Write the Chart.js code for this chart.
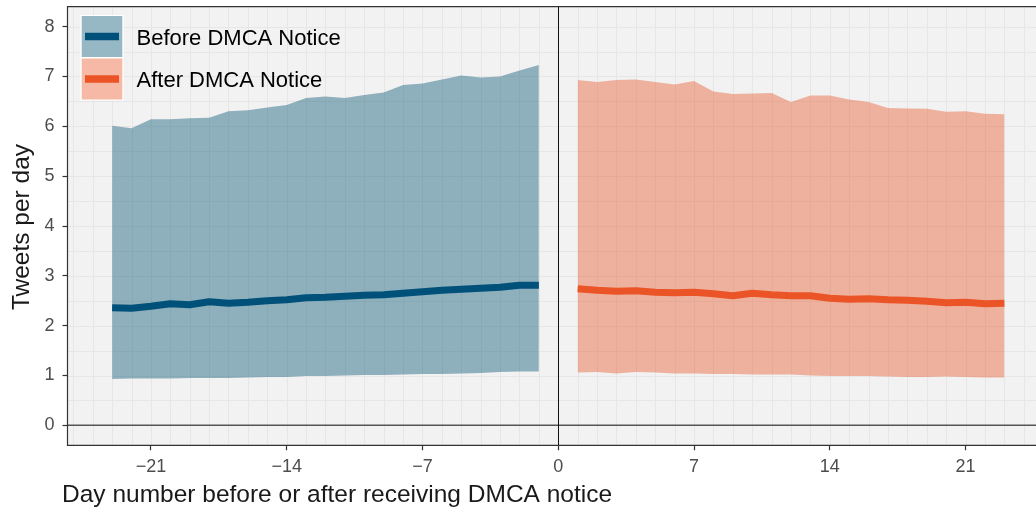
<!DOCTYPE html>
<html><head><meta charset="utf-8">
<script src="https://cdn.jsdelivr.net/npm/chart.js@4"></script>
<style>
html,body{margin:0;padding:0;overflow:hidden;background:#fff;width:1036px;height:509px}
#wrap{position:absolute;left:0;top:0;width:1050px;height:509px}
</style></head>
<body><div id="wrap"><canvas id="c"></canvas></div>
<script>
const daysBefore  = [-23,-22,-21,-20,-19,-18,-17,-16,-15,-14,-13,-12,-11,-10,-9,-8,-7,-6,-5,-4,-3,-2,-1];
const meanBefore  = [2.36,2.35,2.39,2.44,2.42,2.48,2.45,2.47,2.50,2.52,2.56,2.57,2.59,2.61,2.62,2.65,2.68,2.71,2.73,2.75,2.77,2.81,2.81];
const upperBefore = [6.01,5.96,6.14,6.14,6.16,6.17,6.30,6.32,6.38,6.43,6.57,6.60,6.57,6.63,6.68,6.83,6.86,6.94,7.02,6.98,7.00,7.12,7.23];
const lowerBefore = [0.93,0.94,0.94,0.94,0.95,0.95,0.95,0.96,0.97,0.97,0.99,0.99,1.00,1.01,1.01,1.02,1.03,1.03,1.04,1.05,1.07,1.08,1.08];

const daysAfter   = [1,2,3,4,5,6,7,8,9,10,11,12,13,14,15,16,17,18,19,20,21,22,23];
const meanAfter   = [2.74,2.71,2.69,2.70,2.67,2.66,2.67,2.64,2.60,2.65,2.62,2.60,2.60,2.55,2.53,2.54,2.52,2.51,2.49,2.46,2.47,2.44,2.45];
const upperAfter  = [6.93,6.89,6.93,6.94,6.89,6.84,6.91,6.70,6.65,6.66,6.67,6.49,6.62,6.62,6.54,6.49,6.37,6.36,6.35,6.29,6.30,6.25,6.24];
const lowerAfter  = [1.06,1.07,1.04,1.07,1.06,1.04,1.04,1.03,1.03,1.02,1.02,1.02,1.00,0.99,0.99,0.99,0.98,0.97,0.97,0.98,0.97,0.96,0.96];

const xTicks = [-21,-14,-7,0,7,14,21];
const yTicks = [0,1,2,3,4,5,6,7,8];
const seriesNames = ['Before DMCA Notice','After DMCA Notice'];
const xTitle = 'Day number before or after receiving DMCA notice';
const yTitle = 'Tweets per day';

const BLUE = '#00517A', BLUE_F = 'rgba(0,80,112,0.41)';
const ORANGE = '#EA5426', ORANGE_F = 'rgba(234,84,38,0.41)';
const FONT = '"Liberation Sans", Arial, sans-serif';

const pts = (xs, ys) => xs.map((x, i) => ({x: x, y: ys[i]}));

const panelPlugin = {
  id: 'panel',
  beforeDatasetsDraw(chart) {
    const {ctx, chartArea: a, scales: {x, y}} = chart;
    ctx.save();
    ctx.fillStyle = '#F2F2F2';
    ctx.fillRect(a.left, a.top, a.right - a.left, a.bottom - a.top);
    ctx.strokeStyle = '#E6E6E6';
    ctx.lineWidth = 1;
    for (let v = Math.ceil(y.min * 2) / 2; v <= y.max; v += 0.5) {
      const py = Math.round(y.getPixelForValue(v)) + 0.5;
      ctx.beginPath(); ctx.moveTo(a.left, py); ctx.lineTo(a.right, py); ctx.stroke();
    }
    for (let v = Math.ceil(x.min); v <= x.max; v += 1) {
      const px = Math.round(x.getPixelForValue(v)) + 0.5;
      ctx.beginPath(); ctx.moveTo(px, a.top); ctx.lineTo(px, a.bottom); ctx.stroke();
    }
    ctx.strokeStyle = '#555555'; ctx.lineWidth = 1.5;
    const y0 = y.getPixelForValue(0);
    ctx.beginPath(); ctx.moveTo(a.left, y0); ctx.lineTo(a.right, y0); ctx.stroke();
    ctx.strokeStyle = '#111111'; ctx.lineWidth = 1;
    const x0 = Math.round(x.getPixelForValue(0)) + 0.5;
    ctx.beginPath(); ctx.moveTo(x0, a.top); ctx.lineTo(x0, a.bottom); ctx.stroke();
    ctx.restore();
  },
  afterDatasetsDraw(chart) {
    const {ctx, chartArea: a} = chart;
    ctx.save();
    ctx.strokeStyle = '#333333'; ctx.lineWidth = 1.2;
    ctx.beginPath();
    ctx.moveTo(a.right + 2, a.top); ctx.lineTo(a.left, a.top);
    ctx.lineTo(a.left, a.bottom); ctx.lineTo(a.right + 2, a.bottom);
    ctx.stroke();
    const keys = [
      {top: 16, line: BLUE, fill: BLUE_F, label: seriesNames[0]},
      {top: 58.5, line: ORANGE, fill: ORANGE_F, label: seriesNames[1]}
    ];
    keys.forEach(k => {
      ctx.fillStyle = '#FFFFFF';
      ctx.fillRect(80.5, k.top - 1, 43, 43);
      ctx.fillStyle = k.fill;
      ctx.fillRect(81.7, k.top, 40.6, 41);
      ctx.strokeStyle = k.line; ctx.lineWidth = 7.5; ctx.lineCap = 'butt';
      ctx.beginPath(); ctx.moveTo(85, k.top + 20.5); ctx.lineTo(119, k.top + 20.5); ctx.stroke();
      ctx.fillStyle = '#000000';
      ctx.font = '22px ' + FONT;
      ctx.textAlign = 'left'; ctx.textBaseline = 'middle';
      ctx.fillText(k.label, 136.5, k.top + 22.5);
    });
    ctx.restore();
  },
  afterDraw(chart) {
    const ctx = chart.ctx;
    ctx.save();
    ctx.fillStyle = '#1A1A1A';
    ctx.font = '24.5px ' + FONT;
    ctx.textAlign = 'left'; ctx.textBaseline = 'middle';
    ctx.fillText(xTitle, 62, 495);
    ctx.translate(22, 227);
    ctx.rotate(-Math.PI / 2);
    ctx.textAlign = 'center';
    ctx.fillText(yTitle, 0, 0);
    ctx.restore();
  }
};

const lineDs = (data, color, order) => ({
  data, borderColor: color, borderWidth: 7, pointRadius: 0, fill: false,
  tension: 0, borderCapStyle: 'butt', borderJoinStyle: 'round', order
});
const bandDs = (data, fill, target) => ({
  data, borderWidth: 0, borderColor: 'rgba(0,0,0,0)', backgroundColor: fill,
  pointRadius: 0, fill: target, tension: 0, order: 2
});

new Chart(document.getElementById('c'), {
  type: 'line',
  data: {
    datasets: [
      bandDs(pts(daysBefore, upperBefore), BLUE_F, 1),
      bandDs(pts(daysBefore, lowerBefore), BLUE_F, false),
      bandDs(pts(daysAfter, upperAfter), ORANGE_F, 3),
      bandDs(pts(daysAfter, lowerAfter), ORANGE_F, false),
      lineDs(pts(daysBefore, meanBefore), BLUE, 0),
      lineDs(pts(daysAfter, meanAfter), ORANGE, 0)
    ]
  },
  options: {
    responsive: true, maintainAspectRatio: false, animation: false,
    layout: {padding: {top: 6.7, right: 1, left: 0, bottom: 0}},
    plugins: {legend: {display: false}, tooltip: {enabled: false}},
    scales: {
      x: {
        type: 'linear', position: 'bottom', min: -25.3, max: 25.3,
        afterBuildTicks: s => { s.ticks = xTicks.map(v => ({value: v})); },
        afterFit: s => { s.height = 63.7; s.paddingLeft = 0; s.paddingRight = 0; },
        border: {display: false},
        grid: {display: true, drawOnChartArea: false, drawTicks: true, tickLength: 5, tickColor: '#333333', tickWidth: 1.2},
        ticks: {
          color: '#4D4D4D', font: {family: FONT, size: 18}, padding: 6,
          maxRotation: 0, autoSkip: false,
          callback: v => v < 0 ? '\u2212' + Math.abs(v) : String(v)
        }
      },
      y: {
        type: 'linear', min: -0.4, max: 8.4,
        afterBuildTicks: s => { s.ticks = yTicks.map(v => ({value: v})); },
        afterFit: s => { s.width = 67.5; s.paddingTop = 0; s.paddingBottom = 0; },
        border: {display: false},
        grid: {display: true, drawOnChartArea: false, drawTicks: true, tickLength: 5, tickColor: '#333333', tickWidth: 1.2},
        ticks: {color: '#4D4D4D', font: {family: FONT, size: 18}, padding: 8, callback: v => String(v)}
      }
    }
  },
  plugins: [panelPlugin]
});
</script>
</body></html>
